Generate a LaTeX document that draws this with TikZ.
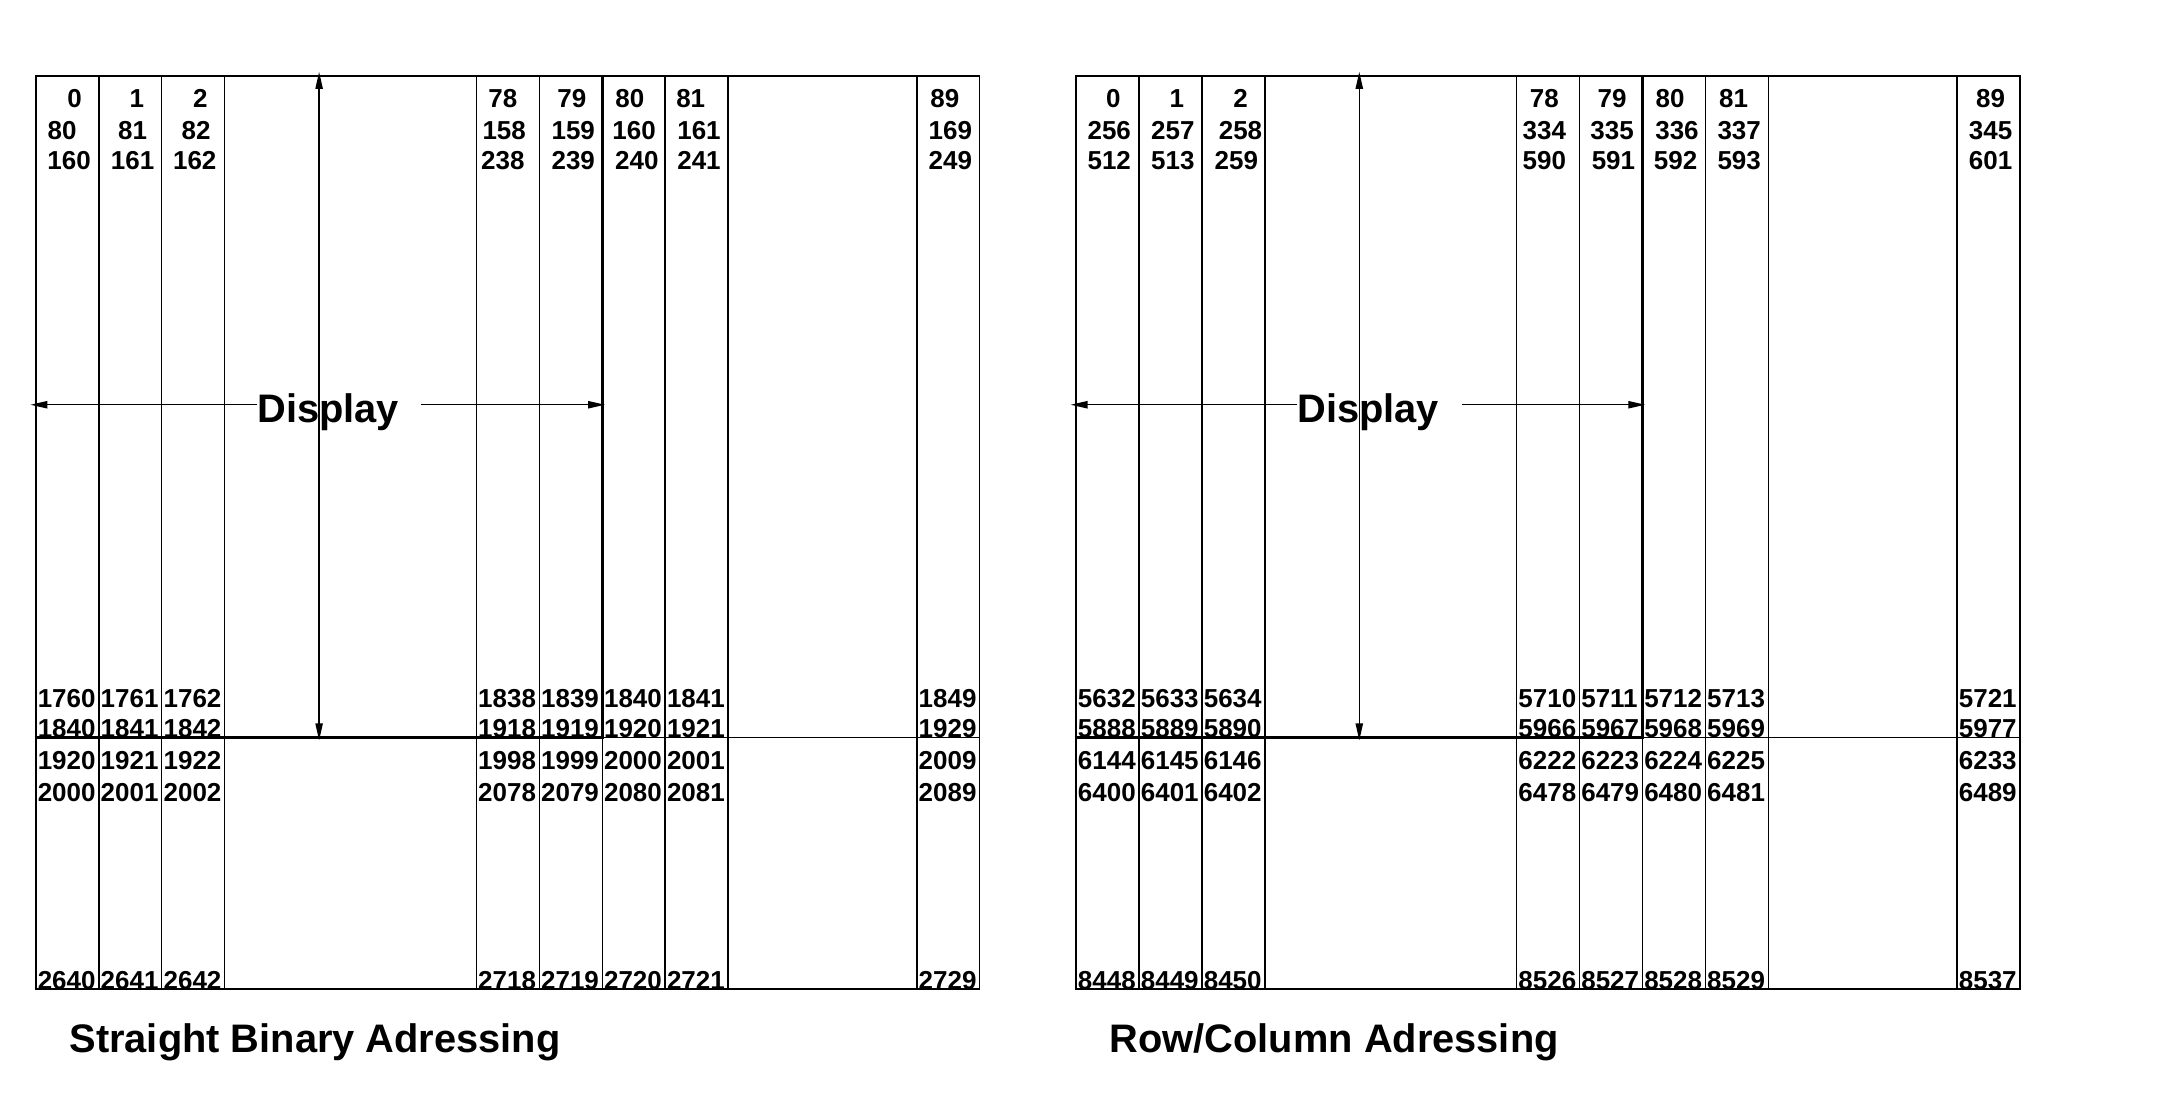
\documentclass[tikz,border=0pt]{standalone}
\usepackage{fontspec}
\setmainfont{Liberation Sans}
\usetikzlibrary{arrows.meta}
\begin{document}
\begin{tikzpicture}[x=0.02cm,y=-0.02cm,
  num/.style={font=\fontsize{10.7}{12}\selectfont\bfseries, inner sep=0pt, anchor=base},
  numl/.style={num, anchor=base west},
  thingrid/.style={line width=0.55pt},
  dbox/.style={line width=1.1pt},
  big/.style={font=\fontsize{16.4}{19}\selectfont\bfseries, inner sep=0pt, anchor=base west},
  tip/.style={Triangle[length=7pt,width=3pt]},
  dim/.style={line width=0.55pt, -{Triangle[length=7pt,width=3pt]}}]
\useasboundingbox (0,0) rectangle (1568,791);
\def\U{45.55}
% grids
\foreach \P/\ox in {L/26, R/779} {
  \begin{scope}[shift={(\ox,0)}]
    \draw[thingrid] (0,55) rectangle (15*\U,716);
    \foreach \c in {1,2,3,7,8,10,11,14} \draw[thingrid] (\c*\U,55) -- (\c*\U,716);
    \draw[thingrid] (9*\U,534) -- (9*\U,716);
    \draw[thingrid] (9*\U,534) -- (15*\U,534);
    \draw[dbox] (0,55) rectangle (9*\U,534);
  \end{scope}
}
% top numbers, left
\foreach \x/\t [count=\i] in {54/0,99/1,145/2,364/78,414/79,456/80,500/81,684/89}
  \node[num] (L-a\i) at (\x,78) {\t};
\foreach \x/\t [count=\i] in {45/80,96/81,142/82,365/158,415/159,459/160,506/161,688/169}
  \node[num] (L-b\i) at (\x,101) {\t};
\foreach \x/\t [count=\i] in {50/160,96/161,141/162,364/238,415/239,461/240,506/241,688/249}
  \node[num] (L-c\i) at (\x,123) {\t};
% top numbers, right
\foreach \x/\t [count=\i] in {806/0,852/1,898/2,1118/78,1167/79,1209/80,1255/81,1441/89}
  \node[num] (R-a\i) at (\x,78) {\t};
\foreach \x/\t [count=\i] in {803/256,849/257,898/258,1118/334,1167/335,1214/336,1259/337,1441/345}
  \node[num] (R-b\i) at (\x,101) {\t};
\foreach \x/\t [count=\i] in {803/512,849/513,895/259,1118/590,1168/591,1213/592,1259/593,1441/601}
  \node[num] (R-c\i) at (\x,123) {\t};
% lower numbers, left
\foreach \y/\r/\lst in {512/d/{1760,1761,1762,1838,1839,1840,1841,1849},
                        534/e/{1840,1841,1842,1918,1919,1920,1921,1929},
                        557/f/{1920,1921,1922,1998,1999,2000,2001,2009},
                        580/g/{2000,2001,2002,2078,2079,2080,2081,2089},
                        716/h/{2640,2641,2642,2718,2719,2720,2721,2729}} {
  \foreach \t [count=\i] in \lst {
    \pgfmathsetmacro\cc{{0,0,1,2,7,8,9,10,14}[\i]}
    \node[numl] (L-\r\i) at (27+\cc*\U,\y) {\t};
  }
}
% lower numbers, right
\foreach \y/\r/\lst in {512/d/{5632,5633,5634,5710,5711,5712,5713,5721},
                        534/e/{5888,5889,5890,5966,5967,5968,5969,5977},
                        557/f/{6144,6145,6146,6222,6223,6224,6225,6233},
                        580/g/{6400,6401,6402,6478,6479,6480,6481,6489},
                        716/h/{8448,8449,8450,8526,8527,8528,8529,8537}} {
  \foreach \t [count=\i] in \lst {
    \pgfmathsetmacro\cc{{0,0,1,2,7,8,9,10,14}[\i]}
    \node[numl] (R-\r\i) at (780+\cc*\U,\y) {\t};
  }
}
% Display labels and arrows
\foreach \P/\ox in {L/0, R/753} {
  \begin{scope}[shift={(\ox,0)}]
    \node[big, anchor=base] (\P-disp) at (237.5,306) {Display};
    \coordinate (\P-hl) at (186,293);
    \coordinate (\P-hlt) at (22,293);
    \coordinate (\P-hr) at (305,293);
    \coordinate (\P-hrt) at (438,293);
    \coordinate (\P-vt) at (231,52);
    \coordinate (\P-vb) at (231,536);
    \draw[dim] (\P-hl) -- (\P-hlt);
    \draw[dim] (\P-hr) -- (\P-hrt);
    \draw[line width=0.55pt, {Triangle[length=7pt,width=3pt]}-{Triangle[length=7pt,width=3pt]}] (\P-vt) -- (\P-vb);
  \end{scope}
}
% titles
\node[big] (L-title) at (50,762) {Straight Binary Adressing};
\node[big] (R-title) at (803,762) {Row/Column Adressing};
\end{tikzpicture}
\end{document}
